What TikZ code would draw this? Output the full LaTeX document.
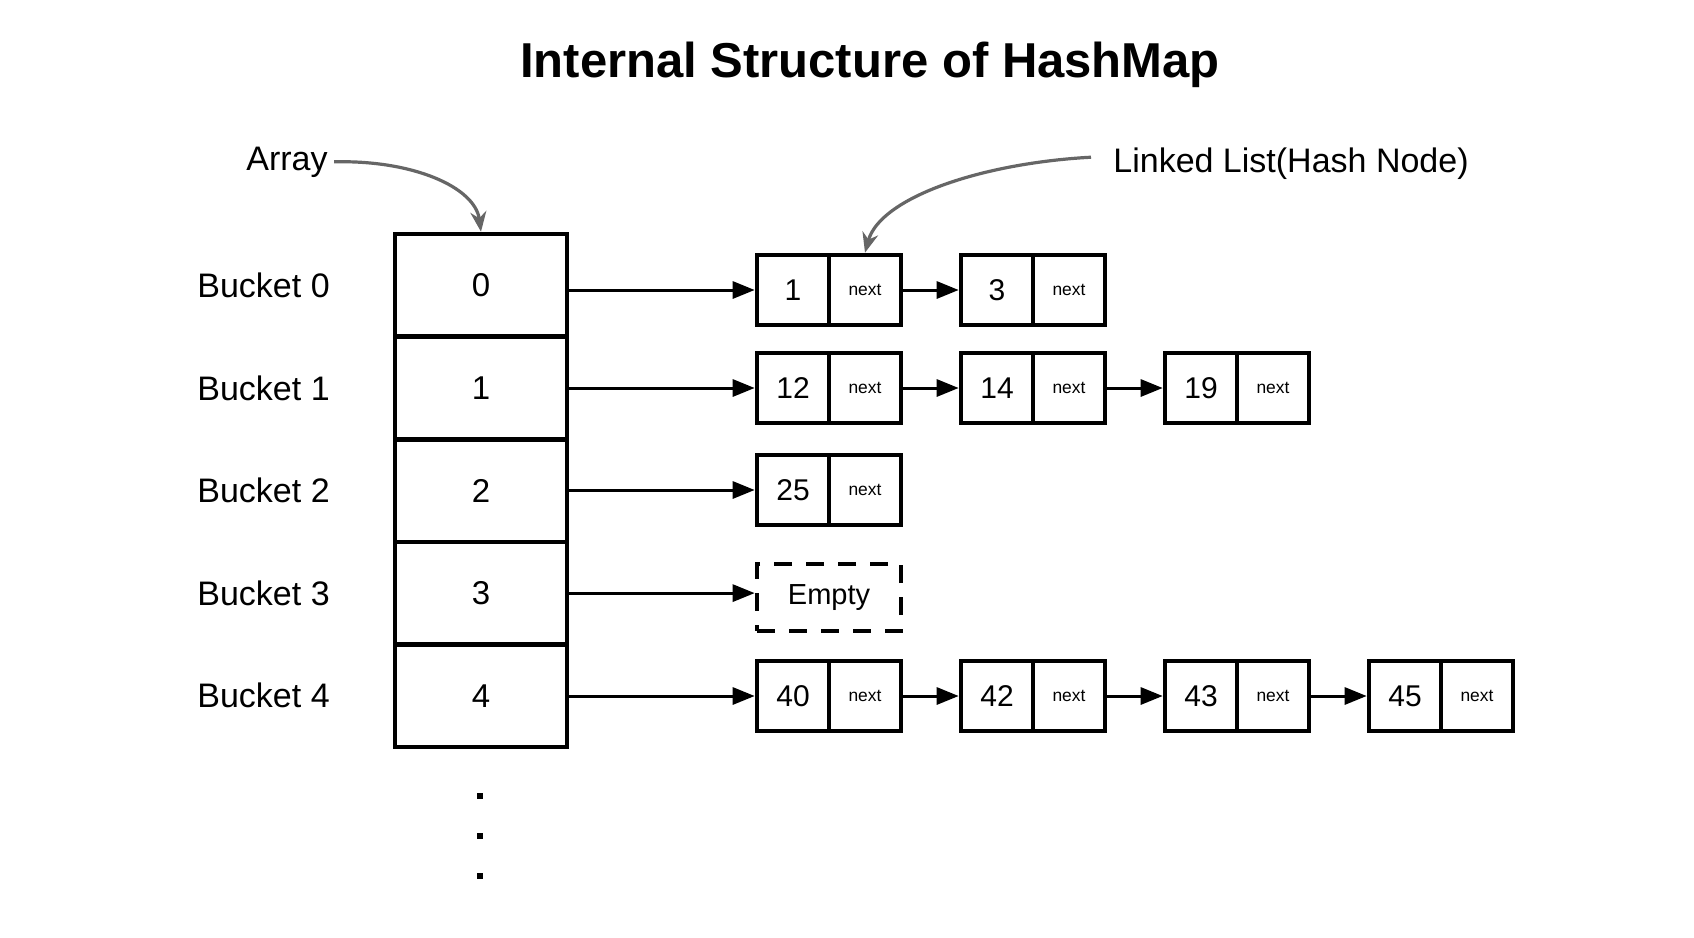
\documentclass[tikz,border=0pt]{standalone}
\usepackage{fontspec}
\setmainfont{Liberation Sans}
\usetikzlibrary{arrows.meta}
\definecolor{calloutgray}{HTML}{666666}
\begin{document}
\begin{tikzpicture}[x=0.5pt,y=-0.5pt,
  arrcell/.style={draw, line width=2.3pt, minimum width=86pt, minimum height=51.3pt, inner sep=0pt, font=\fontsize{16.5}{18}\selectfont},
  valcell/.style={draw, line width=2.3pt, minimum width=36pt, minimum height=35pt, inner sep=0pt, font=\fontsize{15}{17}\selectfont},
  nxtcell/.style={valcell, font=\fontsize{8.7}{10}\selectfont},
  emptybox/.style={draw, line width=2.3pt, dash pattern=on 9pt off 7pt, minimum width=72pt, minimum height=33.5pt, inner sep=0pt, font=\fontsize{14.5}{17}\selectfont},
  lbl/.style={font=\fontsize{17}{20}\selectfont, inner sep=0pt},
  link/.style={line width=1.5pt, -{Triangle[length=11pt,width=8.5pt]}},
  callout/.style={draw=calloutgray, line width=1.6pt, -{Stealth[length=10pt,width=8pt]}},
  dotmark/.style={fill=black, inner sep=0pt, minimum size=2.6pt},
]
\useasboundingbox (0,0) rectangle (1694,938);

% title
\node[font=\bfseries\fontsize{24.5}{28}\selectfont, anchor=base, inner sep=0pt] (title) at (870,77) {Internal Structure of HashMap};

% array and bucket labels
\foreach \i in {0,...,4} {
  \node[arrcell] (a\i) at (481,{285.3+102.6*\i}) {\i};
  \node[lbl, anchor=west] (b\i) at (197,{285.3+102.6*\i}) {Bucket \i};
}

% dots
\node[dotmark] (d1) at (480,796) {};
\node[dotmark] (d2) at (480,836) {};
\node[dotmark] (d3) at (480,876) {};

% linked list nodes: row 0
\node[valcell] (v0a) at (793,290) {1};
\node[nxtcell] (n0a) at (865,290) {next};
\node[valcell] (v0b) at (997,290) {3};
\node[nxtcell] (n0b) at (1069,290) {next};
% row 1
\node[valcell] (v1a) at (793,388) {12};
\node[nxtcell] (n1a) at (865,388) {next};
\node[valcell] (v1b) at (997,388) {14};
\node[nxtcell] (n1b) at (1069,388) {next};
\node[valcell] (v1c) at (1201,388) {19};
\node[nxtcell] (n1c) at (1273,388) {next};
% row 2
\node[valcell] (v2a) at (793,490) {25};
\node[nxtcell] (n2a) at (865,490) {next};
% row 3
\node[emptybox] (e3) at (829,597.5) {Empty};
% row 4
\node[valcell] (v4a) at (793,696) {40};
\node[nxtcell] (n4a) at (865,696) {next};
\node[valcell] (v4b) at (997,696) {42};
\node[nxtcell] (n4b) at (1069,696) {next};
\node[valcell] (v4c) at (1201,696) {43};
\node[nxtcell] (n4c) at (1273,696) {next};
\node[valcell] (v4d) at (1405,696) {45};
\node[nxtcell] (n4d) at (1477,696) {next};

% array to lists
\draw[link] (a0.east |- v0a.west) -- (v0a.west);
\draw[link] (a1.east |- v1a.west) -- (v1a.west);
\draw[link] (a2.east |- v2a.west) -- (v2a.west);
\draw[link] (a3.east) -- (a3.east -| e3.west);
\draw[link] (a4.east |- v4a.west) -- (v4a.west);

% list links
\draw[link] (n0a.east) -- (v0b.west);
\draw[link] (n1a.east) -- (v1b.west);
\draw[link] (n1b.east) -- (v1c.west);
\draw[link] (n4a.east) -- (v4b.west);
\draw[link] (n4b.east) -- (v4c.west);
\draw[link] (n4c.east) -- (v4d.west);

% callouts
\node[lbl, anchor=base west] (arrlbl) at (246,170) {Array};
\node[lbl, anchor=base west] (lllbl) at (1113,172) {Linked List(Hash Node)};
\draw[callout] ([xshift=3pt]arrlbl.east) .. controls +(78,-2) and +(-6,-45) .. (a0.north);
\draw[callout] ([xshift=-11pt,yshift=3pt]lllbl.west) .. controls +(-110,6) and +(15,-55) .. (n0a.north);
\end{tikzpicture}
\end{document}
